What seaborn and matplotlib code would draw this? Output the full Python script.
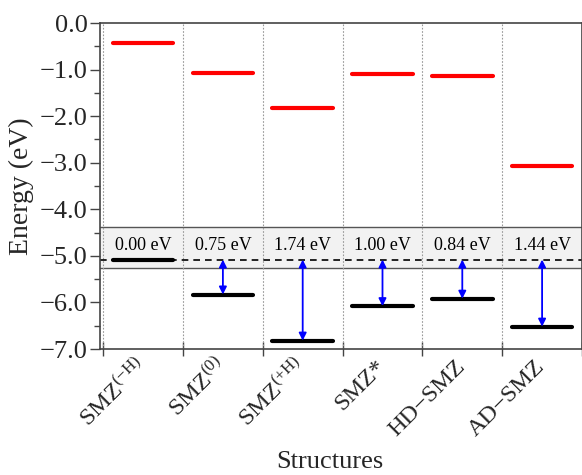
import numpy as np
import pandas as pd
import matplotlib
matplotlib.use("Agg")
import matplotlib.pyplot as plt
import seaborn as sns

structures = [r"SMZ$^{\mathrm{(-H)}}$", r"SMZ$^{\mathrm{(0)}}$", r"SMZ$^{\mathrm{(+H)}}$",
              "SMZ*", "HD\u2212SMZ", "AD\u2212SMZ"]
lumo = [-0.44, -1.08, -1.83, -1.09, -1.13, -3.07]
homo = [-5.08, -5.83, -6.82, -6.08, -5.92, -6.52]
gaps = ["0.00 eV", "0.75 eV", "1.74 eV", "1.00 eV", "0.84 eV", "1.44 eV"]
ref_level = -5.08
band = (-5.27, -4.39)
yticks = [0.0, -1.0, -2.0, -3.0, -4.0, -5.0, -6.0, -7.0]

sns.set_theme(style="ticks")
plt.rcParams["font.family"] = ["Liberation Serif", "DejaVu Serif"]
plt.rcParams["mathtext.fontset"] = "custom"
plt.rcParams["mathtext.rm"] = "Liberation Serif"
plt.rcParams["mathtext.it"] = "Liberation Serif:italic"
plt.rcParams["mathtext.bf"] = "Liberation Serif:bold"
plt.rcParams["axes.unicode_minus"] = True

fig = plt.figure(figsize=(5.82, 4.75), dpi=100)
ax = fig.add_axes([100/582, 1-349/475, 482/582, (349-23)/475])

n = len(structures)
half = 0.38
rows = []
for i in range(n):
    c = i + 0.5
    for kind, val in (("LUMO", lumo[i]), ("HOMO", homo[i])):
        rows.append(dict(seg=f"{kind}{i}", kind=kind, x=c - half, E=val))
        rows.append(dict(seg=f"{kind}{i}", kind=kind, x=c + half, E=val))
df = pd.DataFrame(rows)

# gray band
ax.axhspan(band[0], band[1], facecolor="#f2f2f2", edgecolor="none", zorder=0)
ax.axhline(band[0], color="#555555", lw=1.0, zorder=1)
ax.axhline(band[1], color="#555555", lw=1.0, zorder=1)

# column separators
for b in range(n + 1):
    ax.axvline(b, color="#999999", lw=0.8, ls=(0, (1.5, 1.5)), zorder=1)

ax.axhline(ref_level, color="black", lw=1.2, ls=(0, (4, 3)), zorder=2)

sns.lineplot(data=df, x="x", y="E", hue="kind", units="seg", estimator=None,
             palette={"LUMO": "#ff0000", "HOMO": "black"}, lw=3, legend=False,
             ax=ax, zorder=3)

for i in range(n):
    c = i + 0.5
    ax.text(c, (band[0] + band[1]) / 2 + 0.05, gaps[i], ha="center", va="center",
            fontsize=13, color="black", zorder=4)
    if homo[i] < ref_level - 0.01:
        ax.annotate("", xy=(c, homo[i]), xytext=(c, ref_level),
                    arrowprops=dict(arrowstyle="<|-|>", color="#0000ff", lw=1.3,
                                    mutation_scale=11, shrinkA=0, shrinkB=0),
                    zorder=4)

ax.set_xlim(-0.04, 6.0)
ax.set_ylim(-7.0, 0.0)
ax.set_yticks(yticks)
ax.set_yticklabels([f"{v:.1f}".replace("-", "\u2212") for v in yticks])
ax.set_yticks(np.arange(-6.5, 0, 1.0), minor=True)

ax.set_xticks(np.arange(n + 1))
ax.set_xticklabels([])
ax.set_xticks(np.arange(n) + 0.5, minor=True)
ax.set_xticklabels(structures, minor=True, rotation=45, ha="right", va="center",
                   rotation_mode="anchor", fontsize=17.5)
ax.tick_params(axis="x", which="minor", length=0, pad=10)
ax.tick_params(axis="x", which="major", direction="inout", length=10, width=1.0, color="#444444")
ax.tick_params(axis="y", which="major", direction="out", length=7, width=1.0, labelsize=19,
               color="#444444", pad=2)
ax.tick_params(axis="y", which="minor", direction="out", length=4, width=1.0, color="#444444")

for s in ax.spines.values():
    s.set_color("#444444")
    s.set_linewidth(1.2)

ax.set_ylabel("Energy (eV)", fontsize=20)
ax.yaxis.set_label_coords(-66/482, 0.5)
ax.set_xlabel("Structures", fontsize=19)
ax.xaxis.set_label_coords((330-100)/482, -(462-349)/326)
ax.xaxis.label.set_va("center")

fig.savefig("out.png", dpi=100)
